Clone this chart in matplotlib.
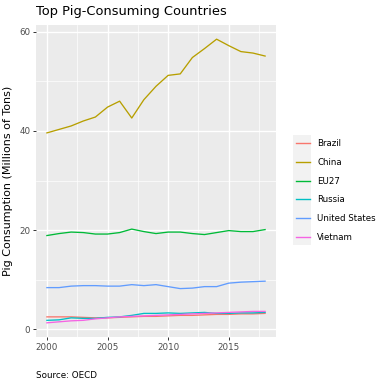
import matplotlib.pyplot as plt
from matplotlib.patches import Rectangle
from matplotlib.ticker import MultipleLocator

years = list(range(2000, 2019))

countries = ["Brazil", "China", "EU27", "Russia", "United States", "Vietnam"]
colors = ["#F8766D", "#B79F00", "#00BA38", "#00BFC4", "#619CFF", "#F564E3"]

brazil = [2.5, 2.5, 2.5, 2.4, 2.3, 2.3, 2.4, 2.5, 2.6, 2.6, 2.7, 2.8, 2.8, 2.9, 3.0, 3.0, 3.1, 3.1, 3.2]
china = [39.6, 40.3, 41.0, 42.0, 42.8, 44.8, 46.0, 42.6, 46.3, 49.0, 51.2, 51.5, 54.8, 56.6, 58.5, 57.2, 56.0, 55.7, 55.1]
eu27 = [18.9, 19.3, 19.6, 19.5, 19.2, 19.2, 19.5, 20.2, 19.7, 19.3, 19.6, 19.6, 19.3, 19.1, 19.5, 19.9, 19.7, 19.7, 20.1]
russia = [1.8, 1.9, 2.3, 2.2, 2.2, 2.4, 2.5, 2.8, 3.2, 3.2, 3.3, 3.2, 3.3, 3.4, 3.2, 3.2, 3.3, 3.3, 3.4]
usa = [8.4, 8.4, 8.7, 8.8, 8.8, 8.7, 8.7, 9.0, 8.8, 9.0, 8.6, 8.2, 8.3, 8.6, 8.6, 9.3, 9.5, 9.6, 9.7]
vietnam = [1.3, 1.5, 1.7, 1.8, 2.1, 2.3, 2.5, 2.6, 2.7, 2.8, 2.9, 3.0, 3.1, 3.2, 3.3, 3.4, 3.5, 3.6, 3.6]

series = [brazil, china, eu27, russia, usa, vietnam]

W = 386
fig = plt.figure(figsize=(3.86, 3.86), dpi=100)
ax = fig.add_axes([36 / W, 49 / W, 240 / W, 312 / W])
ax.set_facecolor("#EBEBEB")
for s in ax.spines.values():
    s.set_visible(False)

ax.xaxis.set_major_locator(MultipleLocator(5))
ax.xaxis.set_minor_locator(MultipleLocator(2.5))
ax.yaxis.set_major_locator(MultipleLocator(20))
ax.yaxis.set_minor_locator(MultipleLocator(10))
ax.grid(which="major", color="white", linewidth=1.0)
ax.grid(which="minor", color="white", linewidth=0.5)
ax.set_axisbelow(True)
ax.tick_params(which="minor", length=0)
ax.tick_params(which="major", length=2.5, width=0.7, color="#333333",
               labelcolor="#4D4D4D", labelsize=6.3, pad=1.5)

lines = []
for name, vals, c in zip(countries, series, colors):
    ln, = ax.plot(years, vals, color=c, linewidth=0.95, label=name)
    lines.append(ln)

allv = [v for s in series for v in s]
lo, hi = min(allv), max(allv)
pad = (hi - lo) * 0.05
ax.set_ylim(lo - pad, hi + pad)
ax.set_xlim(2000 - 0.9, 2018 + 0.9)

# y label placed by hand so it sits where ggplot puts it
fig.text(8.5 / W, 1 - 181 / W, "Pig Consumption (Millions of Tons)", fontsize=8,
         rotation=90, va="center", ha="center")

fig.text(36 / W, 1 - 12 / W, "Top Pig-Consuming Countries", fontsize=9.4, va="center", ha="left")
fig.text(36 / W, 1 - 376 / W, "Source: OECD", fontsize=6.3, va="center", ha="left")

# legend key background
fig.patches.append(Rectangle((293 / W, 1 - 245 / W), 18 / W, 110 / W,
                             transform=fig.transFigure, facecolor="#F2F2F2",
                             edgecolor="none", zorder=0))
leg = fig.legend(handles=lines, loc="center left", bbox_to_anchor=(296 / W, 1 - 190.5 / W),
                 frameon=False, fontsize=6.2, handlelength=1.6, handletextpad=0.85,
                 labelspacing=1.12, borderaxespad=0, borderpad=0)
for h in leg.legend_handles:
    h.set_linewidth(1.0)

fig.savefig("out.png", dpi=100)
